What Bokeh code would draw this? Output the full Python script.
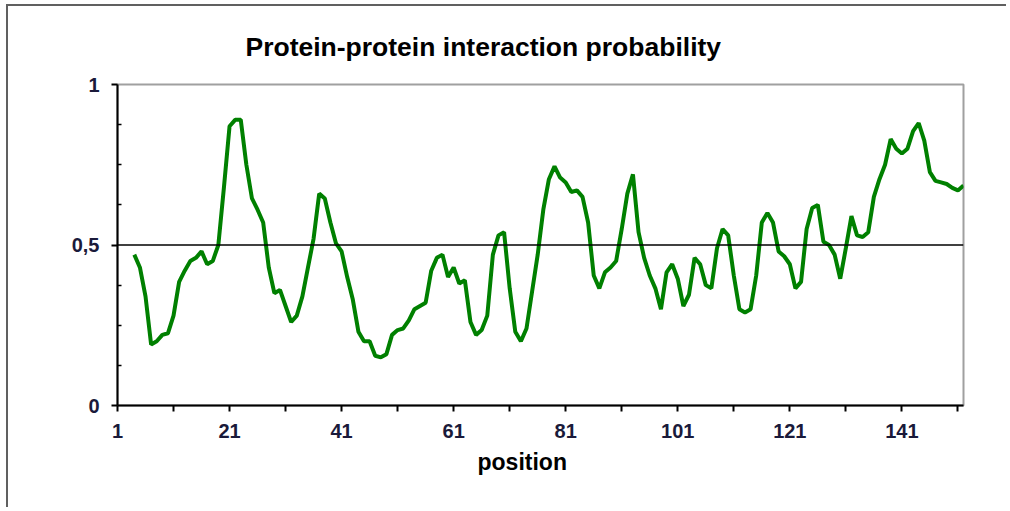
from bokeh.plotting import figure
from bokeh.models import FixedTicker, Span, ColumnDataSource, Range1d, Title
from bokeh.embed import file_html
from bokeh.resources import INLINE

title_text = "Protein-protein interaction probability"
x_label = "position"
positions = list(range(4, 153))
probability = [
    0.47, 0.43, 0.34, 0.19, 0.20, 0.22, 0.225, 0.28, 0.385, 0.42,   # 4-13
    0.45, 0.46, 0.48, 0.44, 0.45, 0.50, 0.68, 0.87, 0.89, 0.89,     # 14-23
    0.75, 0.645, 0.61, 0.57, 0.43, 0.35, 0.36, 0.31, 0.26, 0.28,    # 24-33
    0.34, 0.43, 0.52, 0.66, 0.645, 0.57, 0.505, 0.48, 0.40, 0.33,   # 34-43
    0.23, 0.20, 0.20, 0.155, 0.15, 0.16, 0.22, 0.235, 0.24, 0.265,  # 44-53
    0.30, 0.31, 0.32, 0.42, 0.46, 0.47, 0.40, 0.43, 0.38, 0.39,     # 54-63
    0.26, 0.22, 0.235, 0.28, 0.47, 0.53, 0.54, 0.365, 0.23, 0.20,   # 64-73
    0.24, 0.355, 0.47, 0.61, 0.705, 0.745, 0.71, 0.695, 0.665, 0.67,  # 74-83
    0.65, 0.57, 0.405, 0.365, 0.415, 0.43, 0.45, 0.55, 0.66, 0.72,  # 84-93
    0.54, 0.46, 0.405, 0.365, 0.30, 0.415, 0.44, 0.395, 0.31, 0.345,  # 94-103
    0.46, 0.44, 0.375, 0.365, 0.49, 0.55, 0.53, 0.405, 0.30, 0.29,  # 104-113
    0.30, 0.405, 0.57, 0.60, 0.57, 0.48, 0.465, 0.44, 0.365, 0.385,  # 114-123
    0.55, 0.615, 0.625, 0.51, 0.50, 0.47, 0.395, 0.49, 0.59, 0.53,  # 124-133
    0.525, 0.54, 0.65, 0.705, 0.75, 0.83, 0.80, 0.785, 0.80, 0.855,  # 134-143
    0.88, 0.825, 0.727, 0.70, 0.695, 0.69, 0.678, 0.67, 0.685,      # 144-152
]
x_major = [1, 21, 41, 61, 81, 101, 121, 141]
x_minor = [11, 31, 51, 71, 91, 111, 131, 151]
y_major = [0, 0.5, 1]
y_minor = [0.125, 0.25, 0.375, 0.625, 0.75, 0.875]
y_labels = {0: "0", 0.5: "0,5", 1: "1"}
threshold = 0.5

FONT = "Liberation Sans"

p = figure(width=1000, height=503, output_backend="svg", toolbar_location=None,
           x_range=Range1d(1, 152), y_range=Range1d(0, 1),
           min_border_left=109, min_border_right=45, min_border_top=77, min_border_bottom=104)
p.styles = {"margin-left": "6px", "margin-top": "4px",
            "border-left": "2px solid #606060", "border-top": "2px solid #606060"}
p.background_fill_color = "white"
p.border_fill_color = "white"
p.outline_line_color = "#a0a0a0"
p.outline_line_width = 2
p.xgrid.visible = False
p.ygrid.visible = False

src = ColumnDataSource(dict(x=positions, y=probability))
p.add_layout(Span(location=threshold, dimension="width", line_color="black", line_width=1.5))
p.line("x", "y", source=src, line_color="#008000", line_width=4)

xa = p.xaxis[0]
xa.ticker = FixedTicker(ticks=x_major, minor_ticks=x_minor)
xa.axis_line_color = "black"
xa.axis_line_width = 2
xa.major_tick_out = 6
xa.major_tick_in = 0
xa.minor_tick_out = 6
xa.minor_tick_in = 0
xa.major_tick_line_width = 2
xa.minor_tick_line_width = 2
xa.major_label_text_font = FONT
xa.major_label_text_font_style = "bold"
xa.major_label_text_font_size = "20px"
xa.major_label_text_color = "#1a1a3a"
xa.major_label_standoff = 12

ya = p.yaxis[0]
ya.ticker = FixedTicker(ticks=y_major, minor_ticks=y_minor)
ya.major_label_overrides = y_labels
ya.axis_line_color = "black"
ya.axis_line_width = 2
ya.major_tick_out = 6
ya.major_tick_in = 0
ya.minor_tick_out = 0
ya.minor_tick_in = 4
ya.major_tick_line_width = 2
ya.minor_tick_line_width = 1.5
ya.major_label_text_font = FONT
ya.major_label_text_font_style = "bold"
ya.major_label_text_font_size = "20px"
ya.major_label_text_color = "#1a1a3a"
ya.major_label_standoff = 12

p.add_layout(Title(text=title_text, align="left", offset=128, standoff=46,
                   text_font=FONT, text_font_style="bold", text_font_size="26.5px",
                   text_color="black"), "above")
p.add_layout(Title(text=x_label, align="left", offset=360, standoff=12,
                   text_font=FONT, text_font_style="bold", text_font_size="23px",
                   text_color="black"), "below")

open("out.html", "w").write(file_html(p, INLINE))
